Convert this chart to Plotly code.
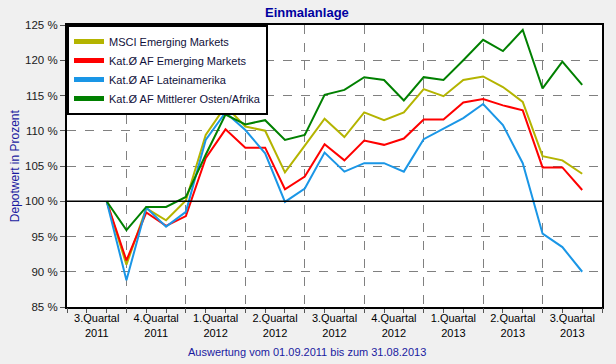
import plotly.graph_objects as go

# Month index: 0 = July 2011 (start of 3.Quartal 2011); points monthly from Sep 2011 (2) to Sep 2013 (26)
months = list(range(2, 27))
quarter_bounds = list(range(0, 28, 3))
quarter_labels = ["3.Quartal<br>2011", "4.Quartal<br>2011", "1.Quartal<br>2012", "2.Quartal<br>2012",
                  "3.Quartal<br>2012", "4.Quartal<br>2012", "1.Quartal<br>2013", "2.Quartal<br>2013",
                  "3.Quartal<br>2013"]
quarter_centers = [b + 1.5 for b in quarter_bounds[:-1]]

msci_em = [100, 91.0, 99.0, 97.3, 100.1, 109.4, 113.5, 110.6, 110.0, 104.1, 107.9, 111.7, 109.1,
           112.6, 111.5, 112.6, 115.9, 114.9, 117.2, 117.7, 116.2, 114.1, 106.4, 105.8, 103.9]
kat_em = [100, 91.6, 98.4, 96.5, 97.9, 106.1, 110.2, 107.6, 107.6, 101.7, 103.5, 108.1, 105.8,
          108.6, 108.0, 108.9, 111.6, 111.6, 114.0, 114.5, 113.6, 112.9, 104.8, 104.8, 101.6]
kat_latam = [100, 88.8, 99.1, 96.4, 98.5, 108.7, 112.6, 110.1, 106.8, 99.9, 101.8, 106.9, 104.2,
             105.4, 105.4, 104.2, 108.8, 110.3, 111.8, 113.8, 110.8, 105.4, 95.4, 93.5, 90.0]
kat_mena = [100, 95.9, 99.2, 99.2, 100.6, 106.6, 112.3, 110.9, 111.5, 108.7, 109.4, 115.1, 115.8,
            117.6, 117.2, 114.3, 117.6, 117.2, 120.0, 122.9, 121.3, 124.3, 116.0, 119.8, 116.5]

series_names = ["MSCI Emerging Markets", "Kat.Ø AF Emerging Markets",
                "Kat.Ø AF Lateinamerika", "Kat.Ø AF Mittlerer Osten/Afrika"]
series_values = [msci_em, kat_em, kat_latam, kat_mena]
colors = ["#B4B400", "#FF0000", "#1A96E6", "#008000"]

FONT = "Liberation Sans, Arial, sans-serif"
fig = go.Figure()

for name, vals, col in zip(series_names, series_values, colors):
    fig.add_trace(go.Scatter(x=months, y=vals, mode="lines", name=name,
                             line=dict(color=col, width=2), showlegend=False, hoverinfo="x+y"))
# legend entries with thick line samples
for name, col in zip(series_names, colors):
    fig.add_trace(go.Scatter(x=[None], y=[None], mode="lines", name=name,
                             line=dict(color=col, width=5), showlegend=True))

fig.update_layout(
    width=616, height=364,
    paper_bgcolor="#F0F0F0", plot_bgcolor="white",
    margin=dict(l=67, r=12, t=25, b=57),
    font=dict(family=FONT, size=11, color="black"),
    showlegend=True,
    legend=dict(x=0, y=1, xanchor="left", yanchor="top", bgcolor="white",
                bordercolor="black", borderwidth=2,
                font=dict(family=FONT, size=11, color="#10103A"),
                itemwidth=30, tracegroupgap=0),
    xaxis=dict(range=[0, 27], tickvals=quarter_centers, ticktext=quarter_labels,
               ticks="", showgrid=False, zeroline=False,
               showline=True, linecolor="black", linewidth=2, mirror=True,
               tickfont=dict(family=FONT, size=11, color="black"),
               minor=dict(tick0=0, dtick=1, ticks="outside", ticklen=4, tickcolor="#555555",
                          showgrid=False)),
    xaxis2=dict(overlaying="x", matches="x", anchor="y", side="bottom",
                tickvals=quarter_bounds, showticklabels=False, ticks="outside", ticklen=5,
                tickcolor="#555555",
                showgrid=True, gridcolor="#808080", griddash="dash", gridwidth=1,
                zeroline=False, showline=False),
    yaxis=dict(range=[85, 125], dtick=5, tick0=85, ticksuffix=" %",
               showgrid=True, gridcolor="#808080", griddash="dash", gridwidth=1,
               zeroline=False, ticks="outside", ticklen=5, tickcolor="#555555",
               showline=True, linecolor="black", linewidth=2, mirror=True,
               tickfont=dict(family=FONT, size=11.5, color="#1A1A1A")),
)

# dummy trace so that the gridline axis renders
fig.add_trace(go.Scatter(x=[None], y=[None], xaxis="x2", yaxis="y", showlegend=False,
                         hoverinfo="skip"))

# 100% reference line
fig.add_shape(type="line", xref="paper", x0=0, x1=1, yref="y", y0=100, y1=100,
              line=dict(color="black", width=1.5), layer="above")

fig.add_annotation(text="<b>Einmalanlage</b>", xref="paper", yref="paper",
                   x=(308 - 67) / 537, y=1 + (25 - 12.5) / 282, xanchor="center", yanchor="middle",
                   showarrow=False, font=dict(family=FONT, size=13, color="#0000A0"))
fig.add_annotation(text="Depotwert in Prozent", xref="paper", yref="paper",
                   x=(15 - 67) / 537, y=0.5, textangle=-90, xanchor="center", yanchor="middle",
                   showarrow=False, font=dict(family=FONT, size=12, color="#1A1AA0"))
fig.add_annotation(text="Auswertung vom 01.09.2011 bis zum 31.08.2013", xref="paper", yref="paper",
                   x=(308 - 67) / 537, y=-(352 - 307) / 282, xanchor="center", yanchor="middle",
                   showarrow=False, font=dict(family=FONT, size=11, color="#1A1AA0"))

fig.write_html("out.html", config={"displayModeBar": False},
               post_script="document.body.style.margin='0px';")
